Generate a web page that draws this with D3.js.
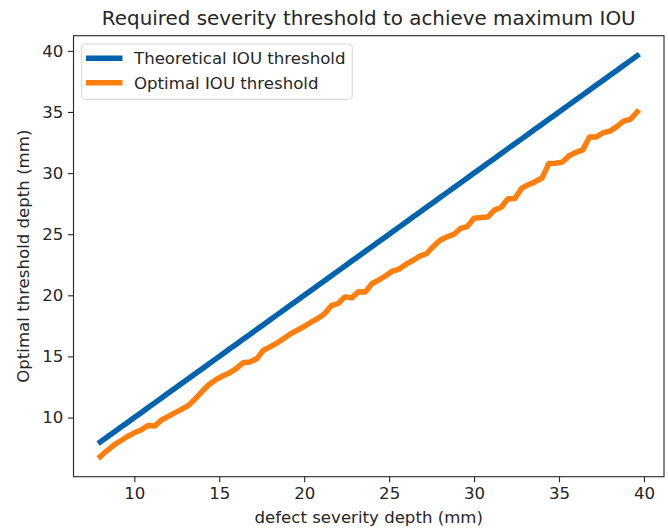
<!DOCTYPE html>
<html>
<head>
<meta charset="utf-8">
<script src="https://cdn.jsdelivr.net/npm/d3@7"></script>
<style>
  html, body { margin: 0; padding: 0; background: #fff; }
  svg { display: block; font-family: "DejaVu Sans", sans-serif; }
</style>
</head>
<body>
<svg id="chart" width="668" height="528"></svg>
<script>
// Defect severity depths (mm) on the x axis
const severity = [
  8.0, 8.4, 8.8, 9.2, 9.6, 10.0, 10.4, 10.8, 11.2, 11.6,
  12.0, 12.4, 12.8, 13.2, 13.6, 14.0, 14.4, 14.8, 15.2, 15.6,
  16.0, 16.4, 16.8, 17.2, 17.6, 18.0, 18.4, 18.8, 19.2, 19.6,
  20.0, 20.4, 20.8, 21.2, 21.6, 22.0, 22.4, 22.8, 23.2, 23.6,
  24.0, 24.4, 24.8, 25.2, 25.6, 26.0, 26.4, 26.8, 27.2, 27.6,
  28.0, 28.4, 28.8, 29.2, 29.6, 30.0, 30.4, 30.8, 31.2, 31.6,
  32.0, 32.4, 32.8, 33.2, 33.6, 34.0, 34.4, 34.8, 35.2, 35.6,
  36.0, 36.4, 36.8, 37.2, 37.6, 38.0, 38.4, 38.8, 39.2, 39.6
];

// Theoretical threshold equals the severity depth
const theoretical = [
  8.0, 8.4, 8.8, 9.2, 9.6, 10.0, 10.4, 10.8, 11.2, 11.6,
  12.0, 12.4, 12.8, 13.2, 13.6, 14.0, 14.4, 14.8, 15.2, 15.6,
  16.0, 16.4, 16.8, 17.2, 17.6, 18.0, 18.4, 18.8, 19.2, 19.6,
  20.0, 20.4, 20.8, 21.2, 21.6, 22.0, 22.4, 22.8, 23.2, 23.6,
  24.0, 24.4, 24.8, 25.2, 25.6, 26.0, 26.4, 26.8, 27.2, 27.6,
  28.0, 28.4, 28.8, 29.2, 29.6, 30.0, 30.4, 30.8, 31.2, 31.6,
  32.0, 32.4, 32.8, 33.2, 33.6, 34.0, 34.4, 34.8, 35.2, 35.6,
  36.0, 36.4, 36.8, 37.2, 37.6, 38.0, 38.4, 38.8, 39.2, 39.6
];

// Threshold giving the best IOU at each severity
const optimal = [
  6.8, 7.3, 7.75, 8.1, 8.45, 8.75, 8.98, 9.35, 9.3, 9.8,
  10.1, 10.4, 10.68, 11.0, 11.55, 12.15, 12.7, 13.1, 13.4, 13.65,
  14.0, 14.48, 14.55, 14.8, 15.5, 15.78, 16.1, 16.47, 16.85, 17.15,
  17.45, 17.8, 18.1, 18.5, 19.15, 19.33, 19.87, 19.79, 20.3, 20.28,
  20.97, 21.25, 21.6, 21.98, 22.15, 22.55, 22.85, 23.2, 23.4, 24.0,
  24.5, 24.78, 24.98, 25.47, 25.62, 26.3, 26.37, 26.4, 26.97, 27.2,
  27.9, 27.92, 28.75, 29.05, 29.3, 29.6, 30.78, 30.8, 30.9, 31.42,
  31.7, 31.9, 32.95, 32.96, 33.3, 33.43, 33.8, 34.25, 34.4, 35.0
];

const xTicks = [10, 15, 20, 25, 30, 35, 40];
const yTicks = [10, 15, 20, 25, 30, 35, 40];

const seriesNames = ["Theoretical IOU threshold", "Optimal IOU threshold"];
const seriesColors = ["#0063ae", "#ff7f0e"];

const svg = d3.select("#chart");
const plot = { left: 73.5, right: 664, top: 35.7, bottom: 476.7 };

// 5% padding around the data range on both axes
function padded(values) {
  const [lo, hi] = d3.extent(values);
  const m = (hi - lo) * 0.05;
  return [lo - m, hi + m];
}

const x = d3.scaleLinear().domain(padded(severity)).range([plot.left, plot.right]);
const y = d3.scaleLinear()
  .domain(padded(theoretical.concat(optimal)))
  .range([plot.bottom, plot.top]);

const textColor = "#262626";
const labelSize = "16.6px";

// Clip region for the data lines
svg.append("defs").append("clipPath").attr("id", "plot-clip")
  .append("rect")
  .attr("x", plot.left).attr("y", plot.top)
  .attr("width", plot.right - plot.left).attr("height", plot.bottom - plot.top);

const line = d3.line().x(d => x(d[0])).y(d => y(d[1]));

const seriesData = [
  severity.map((s, i) => [s, theoretical[i]]),
  severity.map((s, i) => [s, optimal[i]])
];

svg.append("g").attr("clip-path", "url(#plot-clip)")
  .selectAll("path")
  .data(seriesData)
  .join("path")
  .attr("d", line)
  .attr("fill", "none")
  .attr("stroke", (d, i) => seriesColors[i])
  .attr("stroke-width", 5.5)
  .attr("stroke-linejoin", "round")
  .attr("stroke-linecap", "square");

// Axes
const xAxis = d3.axisBottom(x).tickValues(xTicks).tickSizeOuter(0).tickSize(5.5).tickPadding(5);
const yAxis = d3.axisLeft(y).tickValues(yTicks).tickSizeOuter(0).tickSize(5.5).tickPadding(4.6);

const gx = svg.append("g").attr("transform", `translate(0,${plot.bottom})`).call(xAxis);
const gy = svg.append("g").attr("transform", `translate(${plot.left},0)`).call(yAxis);

[gx, gy].forEach(g => {
  g.select(".domain").remove();
  g.selectAll(".tick line").attr("stroke", textColor).attr("stroke-width", 1.1);
  g.selectAll(".tick text")
    .attr("fill", textColor)
    .style("font-family", "DejaVu Sans, sans-serif")
    .style("font-size", labelSize);
});

// Frame around the plotting area
svg.append("rect")
  .attr("x", plot.left).attr("y", plot.top)
  .attr("width", plot.right - plot.left).attr("height", plot.bottom - plot.top)
  .attr("fill", "none").attr("stroke", textColor).attr("stroke-width", 1.1);

// Title and axis labels
svg.append("text")
  .attr("x", (plot.left + plot.right) / 2).attr("y", 25)
  .attr("text-anchor", "middle").attr("fill", textColor)
  .style("font-size", "19.9px")
  .text("Required severity threshold to achieve maximum IOU");

svg.append("text")
  .attr("x", (plot.left + plot.right) / 2).attr("y", 522.5)
  .attr("text-anchor", "middle").attr("fill", textColor)
  .style("font-size", labelSize)
  .text("defect severity depth (mm)");

svg.append("text")
  .attr("transform", `translate(29,${(plot.top + plot.bottom) / 2}) rotate(-90)`)
  .attr("text-anchor", "middle").attr("fill", textColor)
  .style("font-size", labelSize)
  .text("Optimal threshold depth (mm)");

// Legend
const legend = svg.append("g");
legend.append("rect")
  .attr("x", 81.7).attr("y", 44).attr("width", 270.5).attr("height", 55.3)
  .attr("rx", 3).attr("fill", "#fff").attr("fill-opacity", 0.8)
  .attr("stroke", "#d6d6d6").attr("stroke-width", 1);

seriesNames.forEach((name, i) => {
  const ly = 58.3 + i * 24.4;
  legend.append("line")
    .attr("x1", 86).attr("x2", 122.5).attr("y1", ly).attr("y2", ly)
    .attr("stroke", seriesColors[i]).attr("stroke-width", 5.5);
  legend.append("text")
    .attr("x", 134).attr("y", ly).attr("dy", "0.35em")
    .attr("fill", textColor)
    .style("font-size", labelSize)
    .text(name);
});
</script>
</body>
</html>
